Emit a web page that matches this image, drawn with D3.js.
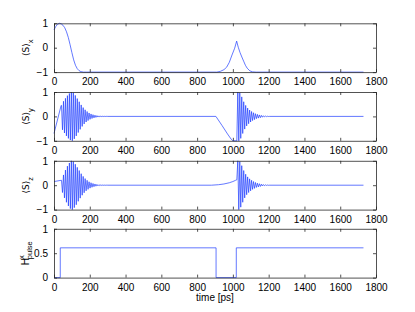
<!DOCTYPE html>
<html>
<head>
<meta charset="utf-8">
<script src="https://cdn.jsdelivr.net/npm/d3@7"></script>
<style>
  body { margin: 0; background: #fff; }
  text { font-family: "Liberation Sans", Arial, "DejaVu Sans", sans-serif; }
</style>
</head>
<body>
<script>
var W = 415, H = 312;
var margin = {left: 54, right: 39};
var panelTop = [23.3, 92, 160.8, 228.8];
var panelH = 48.8;

// x ticks shared by all panels
var xTicks = [0, 200, 400, 600, 800, 1000, 1200, 1400, 1600, 1800];

// <S>_x : smooth drop, then a sharp bump near 1020 ps
var sxT = [0, 10, 20, 30, 40, 50, 60, 70, 80, 90, 100, 110, 120, 130, 140, 150, 165, 180,
           910, 930, 950, 965, 980, 995, 1010, 1021, 1030, 1040, 1050, 1060, 1070, 1080, 1095, 1110, 1130, 1730];
var sxV = [0.73, 0.87, 0.96, 1.0, 0.98, 0.92, 0.82, 0.65, 0.42, 0.12, -0.2, -0.5, -0.72, -0.86, -0.94, -0.98, -1, -1,
           -1, -0.97, -0.9, -0.8, -0.6, -0.3, -0.02, 0.27, 0.02, -0.2, -0.38, -0.55, -0.72, -0.84, -0.95, -0.99, -1, -1];

// times of the oscillation extrema (first and second burst)
var burst1T = [42, 47.5, 53, 58.5, 64, 69.5, 75, 80.5, 86, 91.5, 97, 102.5, 108, 113.5, 119, 124.5,
               130, 135.5, 141, 146.5, 152, 157.5, 163, 168.5, 174, 179.5, 185, 190.5, 196, 201.5, 207, 212.5,
               218, 223.5, 229, 234.5, 240, 245.5, 251, 256.5, 262, 267.5, 273, 278.5, 284, 289.5, 295, 300.5];
var burst2T = [1022, 1027.5, 1033, 1038.5, 1044, 1049.5, 1055, 1060.5, 1066, 1071.5, 1077, 1082.5, 1088, 1093.5,
               1099, 1104.5, 1110, 1115.5, 1121, 1126.5, 1132, 1137.5, 1143, 1148.5, 1154, 1159.5, 1165, 1170.5,
               1176, 1181.5, 1187, 1192.5, 1198, 1203.5];

// <S>_y
var syStartT = [0, 40];
var syStartV = [-0.7, 0.45];
var syB1 = [0.45, -0.55, 0.62, -0.68, 0.74, -0.8, 0.85, -0.9, 0.94, -0.97, 1.0, -1.0, 0.97, -0.92, 0.86, -0.8,
            0.73, -0.66, 0.6, -0.53, 0.47, -0.41, 0.36, -0.31, 0.27, -0.23, 0.2, -0.17, 0.14, -0.12, 0.1, -0.085,
            0.07, -0.06, 0.05, -0.04, 0.033, -0.027, 0.022, -0.018, 0.014, -0.011, 0.009, -0.007, 0.005, -0.004, 0.003, 0];
var syMidT = [905, 940, 970, 990, 1000, 1016];
var syMidV = [0, -0.38, -0.72, -0.93, -1, -1];
var syB2 = [-1, 1.0, -1.0, 0.97, -0.9, 0.8, -0.7, 0.6, -0.52, 0.45, -0.39, 0.34, -0.3, 0.26, -0.23, 0.2,
            -0.17, 0.15, -0.13, 0.11, -0.09, 0.08, -0.07, 0.06, -0.05, 0.04, -0.033, 0.027, -0.02, 0.015, -0.01, 0.007, -0.004, 0];
var syEndT = [1730];
var syEndV = [0];

// <S>_z
var szStartT = [0, 40];
var szStartV = [0.15, 0.2];
var szB1 = [0.2, -0.3, 0.42, -0.52, 0.62, -0.7, 0.78, -0.85, 0.91, -0.96, 1.0, -1.0, 0.97, -0.92, 0.86, -0.8,
            0.73, -0.66, 0.6, -0.53, 0.47, -0.41, 0.36, -0.31, 0.27, -0.23, 0.2, -0.17, 0.14, -0.12, 0.1, -0.085,
            0.07, -0.06, 0.05, -0.04, 0.033, -0.027, 0.022, -0.018, 0.014, -0.011, 0.009, -0.007, 0.005, -0.004, 0.003, 0];
var szMidT = [880, 920, 950, 980, 1000, 1015];
var szMidV = [0, 0.02, 0.05, 0.1, 0.15, 0.2];
var szB2 = [0.22, 1.0, -1.0, 0.97, -0.9, 0.8, -0.7, 0.6, -0.52, 0.45, -0.39, 0.34, -0.3, 0.26, -0.23, 0.2,
            -0.17, 0.15, -0.13, 0.11, -0.09, 0.08, -0.07, 0.06, -0.05, 0.04, -0.033, 0.027, -0.02, 0.015, -0.01, 0.007, -0.004, 0];
var szEndT = [1730];
var szEndV = [0];

// H^x_pulse (step after)
var hT = [0, 35, 906, 1019, 1730];
var hV = [0, 0.61, 0, 0.61, 0.61];

function zipPts(t, v) { return t.map(function(d, i) { return [d, v[i]]; }); }

var sxData = zipPts(sxT, sxV);
var syData = [].concat(zipPts(syStartT, syStartV), zipPts(burst1T, syB1), zipPts(syMidT, syMidV),
                       zipPts(burst2T, syB2), zipPts(syEndT, syEndV));
var szData = [].concat(zipPts(szStartT, szStartV), zipPts(burst1T, szB1), zipPts(szMidT, szMidV),
                       zipPts(burst2T, szB2), zipPts(szEndT, szEndV));
var hData = zipPts(hT, hV);

var panels = [
  {data: sxData, domain: [-1, 1], ticks: [-1, 0, 1], label: "x", curve: d3.curveLinear},
  {data: syData, domain: [-1, 1], ticks: [-1, 0, 1], label: "y", curve: d3.curveLinear},
  {data: szData, domain: [-1, 1], ticks: [-1, 0, 1], label: "z", curve: d3.curveLinear},
  {data: hData, domain: [0, 1], ticks: [0, 0.5, 1], label: "H", curve: d3.curveStepAfter}
];

var svg = d3.select("body").append("svg")
  .attr("width", W)
  .attr("height", H);

var x = d3.scaleLinear().domain([0, 1800]).range([margin.left, W - margin.right]);
var fmt = function(d) { return d < 0 ? "\u2212" + Math.abs(d) : String(d); };

panels.forEach(function(p, i) {
  var y = d3.scaleLinear().domain(p.domain).range([panelTop[i] + panelH, panelTop[i]]);
  var g = svg.append("g");

  var line = d3.line()
    .x(function(d) { return x(d[0]); })
    .y(function(d) { return y(d[1]); })
    .curve(p.curve);

  g.append("path")
    .datum(p.data)
    .attr("d", line)
    .attr("fill", "none")
    .attr("stroke", "#1f3dff")
    .attr("stroke-width", 0.7);

  // axes, ticks pointing inward on all four sides
  g.append("g")
    .attr("transform", "translate(0," + y.range()[0] + ")")
    .call(d3.axisBottom(x).tickValues(xTicks).tickSizeInner(-3).tickSizeOuter(0).tickPadding(6).tickFormat(fmt));
  g.append("g")
    .attr("transform", "translate(0," + y.range()[1] + ")")
    .call(d3.axisTop(x).tickValues(xTicks).tickSizeInner(-3).tickSizeOuter(0).tickFormat(""));
  g.append("g")
    .attr("transform", "translate(" + margin.left + ",0)")
    .call(d3.axisLeft(y).tickValues(p.ticks).tickSizeInner(-3).tickSizeOuter(0).tickPadding(6).tickFormat(fmt));
  g.append("g")
    .attr("transform", "translate(" + (W - margin.right) + ",0)")
    .call(d3.axisRight(y).tickValues(p.ticks).tickSizeInner(-3).tickSizeOuter(0).tickFormat(""));

  g.selectAll(".domain").attr("stroke", "#262626").attr("stroke-width", 0.8);
  g.selectAll(".tick line").attr("stroke", "#262626").attr("stroke-width", 0.8);
  g.selectAll(".tick text").attr("font-size", 10).attr("fill", "#000")
    .attr("font-family", "Liberation Sans, Arial, sans-serif");

  // y label
  var cy = panelTop[i] + panelH / 2;
  var lab = svg.append("text")
    .attr("transform", "translate(29," + cy + ") rotate(-90)")
    .attr("text-anchor", "middle")
    .attr("font-size", 10)
    .attr("fill", "#000");
  if (p.label === "H") {
    lab.append("tspan").text("H");
    lab.append("tspan").attr("font-size", 7.5).attr("dy", -5).attr("dx", -1).text("x");
    lab.append("tspan").attr("font-size", 7.5).attr("dy", 8).attr("dx", -4).text("pulse");
  } else {
    lab.append("tspan").attr("font-family", "DejaVu Sans, sans-serif").attr("font-size", 9).text("\u27E8S\u27E9");
    lab.append("tspan").attr("font-size", 7.5).attr("dy", 4).text(p.label);
  }
});

svg.append("text")
  .attr("x", (margin.left + W - margin.right) / 2)
  .attr("y", 301)
  .attr("text-anchor", "middle")
  .attr("font-size", 10)
  .attr("fill", "#000")
  .text("time [ps]");
</script>
</body>
</html>
